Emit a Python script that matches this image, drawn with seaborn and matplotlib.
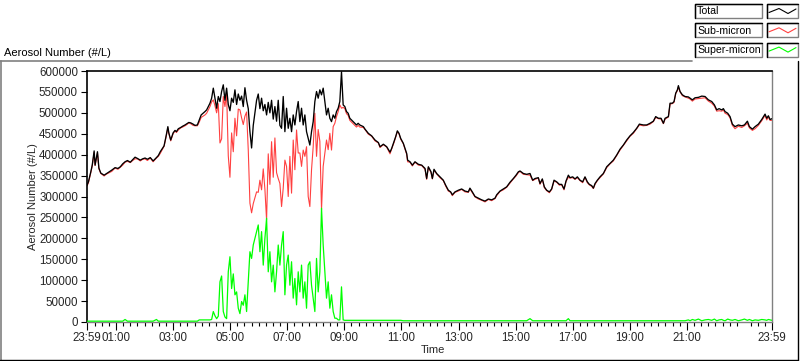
import numpy as np
import pandas as pd
import matplotlib
matplotlib.use("Agg")
import matplotlib.pyplot as plt
import seaborn as sns
from matplotlib.lines import Line2D
from matplotlib.patches import Rectangle

# ---------------- data (time: minutes after 23:59, values: thousands #/L) -------------
minutes = [
    # 23:59 - 04:00
    0, 3, 8, 11, 15, 17, 20, 22, 25, 29, 36, 40, 45, 52, 59, 65, 70, 75, 80, 85,
    91, 96, 101, 106, 112, 117, 122, 127, 133, 139, 146, 150, 154, 162, 166, 170, 172, 176, 181, 185,
    188, 192, 197, 201, 206, 210, 214, 218, 223, 227, 232, 236, 240,
    # 04:07 - 06:45 (noisy)
    248, 251.5, 255, 258.5, 262, 265.5, 269, 272.5, 276, 279.5, 283, 286.5, 290, 293.5, 297, 300.5,
    304, 307.5, 311, 314.5, 318, 321.5, 325, 328.5, 332, 335.5, 339, 342.5, 346, 349.5, 353, 356.5,
    360, 363.5, 367, 370.5, 374, 377.5, 381, 384.5, 388, 391.5, 395, 398.5, 402, 405.5,
    # 06:48 - 09:33
    409, 412.5, 416, 419.5, 423, 426.5, 430, 433.5, 437, 440.5, 444, 447.5, 451, 454.5, 458, 461.5,
    465, 468.5, 472, 475.5, 479, 482.5, 486, 489.5, 493, 496.5, 500, 503.5, 507, 510.5, 514, 517.5,
    521, 524.5, 528, 531.5, 535, 538.5, 542, 545.5, 549, 552.5, 556, 559.5, 563, 566.5, 570, 573.5,
    # 09:40 - 14:17
    581, 584.4, 591.4, 598.4, 605.4, 612.5, 616, 623, 630, 637, 640.5, 645.4, 648.9, 652.4, 655.9, 659.4,
    665, 668.5, 672, 674, 679, 684, 689.5, 696.6, 703.6, 710.6, 714, 717.6, 723.2, 726, 729.5, 735,
    742, 749, 754, 759.6, 764.5, 768, 773.6, 780.6, 787.6, 794.6, 801.6, 805, 810, 815.7, 822.7, 829.7,
    836.7, 843.7, 850.7, 857.7,
    # 14:20 - 19:20
    861.2, 868.2, 875.2, 882.2, 889.2, 896.3, 901.9, 906.8, 910.3, 917.3, 924.3, 931.3, 936.9, 941.8,
    948.8, 952.3, 957.2, 961.4, 966.3, 972, 976.8, 981.8, 987.4, 993, 997.9, 1002.8, 1007, 1011.9,
    1015.4, 1021, 1025.9, 1030.8, 1036.4, 1042, 1046.9, 1051.8, 1056, 1061, 1064.5, 1068, 1072.9,
    1078.5, 1085.5, 1092.5, 1099.5, 1106.5, 1113.5, 1120.5, 1127.5, 1134.5, 1141.5, 1148.5, 1155.5, 1161.2,
    # 19:28 - 23:59
    1169.6, 1176.6, 1183.6, 1190.6, 1195.5, 1201.2, 1206.8, 1211.7, 1215.2, 1222.2, 1225.7, 1230.6,
    1234.1, 1237.6, 1241.1, 1243.2, 1246.7, 1251.6, 1257.2, 1264.2, 1267.7, 1272.6, 1278.2, 1285.3,
    1292.3, 1299.3, 1306.3, 1313.3, 1318.9, 1323.8, 1328.7, 1334.3, 1337.8, 1341.3, 1346.9, 1351.8,
    1356.7, 1362.3, 1369.3, 1376.4, 1382, 1388.3, 1392.5, 1398.8, 1404.4, 1411.4, 1418.4, 1425.4,
    1428.9, 1432.4, 1435.9, 1440,
]

total = [
    327, 335, 359, 375, 409, 375, 395, 407, 368, 356, 351, 354, 358, 363, 369, 367, 371, 378, 383, 386,
    382, 388, 394, 391, 387, 390, 392, 389, 393, 385, 393, 398, 407, 421, 443, 467, 452, 435, 452, 458,
    455, 462, 465, 468, 471, 474, 477, 476, 473, 470, 471, 483, 495,
    503, 507, 515, 523, 535, 559, 535, 511, 539, 527, 551, 567, 530, 559, 520, 505,
    535, 525, 555, 520, 545, 530, 540, 515, 560, 530, 510, 455, 416, 470, 500, 530,
    545, 510, 535, 505, 520, 495, 525, 500, 530, 485, 515, 480, 530, 470,
    463, 539, 455, 511, 463, 487, 455, 495, 471, 503, 527, 479, 511, 471, 495, 455,
    439, 423, 455, 479, 527, 551, 535, 555, 543, 559, 527, 495, 511, 487, 479, 495,
    487, 503, 511, 527, 598, 519, 515, 503, 499, 487, 483, 479, 475, 471, 475, 471,
    467, 461, 451, 445, 435, 429, 419, 425, 419, 406, 415, 431, 443, 457, 451, 439,
    427, 415, 403, 387, 383, 375, 383, 377, 375, 367, 343, 371, 359, 343, 365, 355,
    347, 339, 327, 315, 311, 304, 311, 315, 318, 313, 311, 320, 311, 300, 296, 292,
    289, 294, 292, 296,
    304, 313, 318, 323, 334, 343, 351, 359, 361, 355, 353, 355, 339, 343,
    345, 331, 342, 323, 315, 311, 318, 339, 335, 329, 329, 318, 337, 351,
    345, 347, 342, 347, 339, 335, 347, 335, 329, 326, 320, 331, 339,
    347, 355, 371, 379, 387, 399, 413, 423, 435, 445, 453, 463, 473,
    471, 471, 475, 480, 491, 487, 487, 475, 487, 491, 523, 523,
    527, 547, 555, 565, 551, 543, 539, 538, 535, 531, 536, 537,
    540, 539, 531, 527, 519, 507, 510, 507, 510, 503, 499, 491,
    473, 467, 471, 469, 471, 480, 467, 461, 467, 473, 484, 497,
    487, 493, 484, 486,
]

sub_micron = [
    325, 333, 357, 373, 405, 374, 393, 404, 366, 355, 349, 353, 356, 360, 368, 365, 370, 375, 382, 384,
    381, 386, 390, 390, 385, 389, 390, 386, 392, 383, 392, 396, 403, 420, 441, 464, 451, 433, 450, 457,
    453, 459, 464, 466, 469, 472, 476, 474, 470, 469, 469, 478, 489,
    495, 499, 507, 515, 526, 531, 517, 500, 522, 428, 438, 539, 515, 548, 397, 346,
    452, 407, 487, 445, 509, 507, 488, 472, 492, 502, 411, 284, 261, 283, 297, 311,
    310, 339, 316, 366, 317, 244, 402, 329, 431, 346, 440, 357, 343, 331,
    276, 320, 387, 372, 300, 396, 308, 435, 364, 459, 404, 404, 372, 411, 396, 419,
    300, 276, 364, 419, 499, 396, 460, 432, 268, 372, 404, 435, 412, 451, 411, 467,
    475, 491, 503, 519, 511, 513, 510, 498, 494, 482, 478, 474, 470, 466, 470, 466,
    465, 460, 449, 444, 433, 428, 417, 424, 418, 402, 414, 429, 442, 455, 450, 437,
    426, 413, 401, 383, 382, 373, 382, 375, 374, 365, 341, 370, 357, 342, 363, 354,
    345, 338, 325, 313, 310, 302, 310, 313, 317, 311, 310, 318, 309, 299, 294, 291,
    287, 293, 290, 295,
    302, 312, 316, 322, 332, 342, 349, 357, 360, 353, 352, 351, 338, 341,
    344, 329, 341, 321, 314, 309, 317, 337, 334, 327, 328, 316, 336, 346,
    344, 345, 341, 345, 338, 333, 346, 333, 328, 324, 319, 329, 338,
    345, 354, 369, 378, 385, 398, 411, 422, 433, 444, 451, 462, 471,
    469, 470, 473, 479, 489, 486, 485, 474, 485, 490, 521, 522,
    525, 546, 553, 562, 550, 541, 538, 535, 533, 528, 533, 534,
    535, 536, 528, 523, 516, 504, 505, 504, 507, 499, 496, 488,
    470, 462, 468, 465, 469, 475, 464, 458, 462, 470, 481, 494,
    483, 490, 482, 482,
]

super_micron = [
    2, 2, 2, 2, 2, 2, 2, 2, 2, 2, 2, 2, 2, 2, 2, 2, 2, 2, 6, 2,
    2, 2, 2, 2, 2, 2, 2, 2, 2, 2, 6, 2, 2, 2, 2, 2, 2, 2, 2, 2,
    2, 2, 2, 2, 2, 2, 2, 2, 2, 2, 2, 5, 5,
    5, 5, 5, 5, 6, 25, 15, 8, 14, 96, 110, 25, 12, 8, 120, 156,
    80, 115, 65, 72, 33, 20, 49, 40, 65, 25, 96, 168, 152, 184, 200, 216,
    232, 168, 216, 136, 200, 248, 120, 168, 96, 136, 72, 120, 184, 136,
    184, 216, 65, 136, 160, 88, 144, 57, 104, 41, 120, 72, 136, 57, 96, 33,
    136, 144, 88, 57, 25, 152, 72, 120, 272, 184, 120, 57, 96, 33, 65, 25,
    9, 9, 5, 5, 84, 5, 4, 4, 4, 4, 4, 4, 4, 4, 4, 4,
    4, 4, 4, 4, 4, 4, 4, 4, 4, 4, 4, 4, 4, 4, 4, 4,
    3, 3, 3, 3, 3, 3, 3, 3, 3, 3, 3, 3, 3, 3, 3, 3,
    3, 3, 3, 3, 3, 3, 3, 3, 3, 3, 3, 3, 3, 3, 3, 3,
    3, 3, 3, 3,
    3, 3, 3, 3, 3, 3, 3, 3, 3, 3, 3, 8, 3, 3,
    3, 3, 3, 3, 3, 3, 3, 3, 3, 3, 3, 3, 3, 8,
    3, 3, 3, 3, 3, 3, 3, 3, 3, 3, 3, 3, 3,
    3, 3, 3, 3, 3, 3, 3, 3, 3, 3, 3, 3, 3,
    3, 3, 3, 3, 3, 3, 3, 3, 3, 3, 3, 3,
    3, 3, 3, 3, 3, 3, 3, 5, 3, 6, 4, 7,
    3, 5, 6, 4, 7, 3, 5, 6, 4, 3, 7, 5,
    4, 6, 3, 5, 7, 4, 6, 3, 5, 4, 6, 5,
    4, 6, 5, 4,
]

tick_minutes = [0, 61, 181, 301, 421, 541, 661, 781, 901, 1021, 1141, 1261, 1440]
tick_labels = ["23:59", "01:00", "03:00", "05:00", "07:00", "09:00", "11:00",
               "13:00", "15:00", "17:00", "19:00", "21:00", "23:59"]
y_ticks = [0, 50000, 100000, 150000, 200000, 250000, 300000,
           350000, 400000, 450000, 500000, 550000, 600000]
series_names = ["Total", "Sub-micron", "Super-micron"]

# ---------------- style -------------
sns.set_style("white")
plt.rcParams['font.family'] = ['Liberation Sans', 'DejaVu Sans']
plt.rcParams['font.size'] = 8

BLACK, RED, GREEN, GREY = "#000000", "#ff4040", "#00ff00", "#808080"
W, H = 800, 361
fig = plt.figure(figsize=(W / 100, H / 100), dpi=100)
fig.patch.set_facecolor("white")

L, R, T, B = 87, 772, 71, 322
ax = fig.add_axes([L / W, 1 - B / H, (R - L) / W, (B - T) / H])

df = pd.DataFrame({
    "hours": np.array(minutes) / 60.0,
    "Total": np.array(total) * 1000.0,
    "Sub-micron": np.array(sub_micron) * 1000.0,
    "Super-micron": np.array(super_micron) * 1000.0,
})

sns.lineplot(data=df, x="hours", y="Sub-micron", ax=ax, color=RED, lw=0.8,
             estimator=None, sort=False, zorder=2)
sns.lineplot(data=df, x="hours", y="Total", ax=ax, color=BLACK, lw=0.95,
             estimator=None, sort=False, zorder=3)
sns.lineplot(data=df, x="hours", y="Super-micron", ax=ax, color=GREEN, lw=0.9,
             estimator=None, sort=False, zorder=4)

ax.set_xlim(0, 24)
ax.set_ylim(0, 600000)
ax.set_xticks(np.array(tick_minutes) / 60.0)
ax.set_xticklabels(tick_labels)
minor = [16, 31, 46] + [61 + 15 * k for k in range(1, 96) if 61 + 15 * k < 1440 and (15 * k) % 120 != 0]
ax.set_xticks(np.array(minor) / 60.0, minor=True)
ax.set_yticks(y_ticks)
ax.set_yticklabels([str(v) for v in y_ticks])

ax.tick_params(axis="x", which="major", direction="out", length=5.5, width=0.8,
               color=BLACK, pad=2, labelsize=8.3, bottom=True)
ax.tick_params(axis="x", which="minor", direction="out", length=3, width=0.8,
               color=BLACK, bottom=True)
ax.tick_params(axis="y", which="major", direction="out", length=4.5, width=0.8,
               color=BLACK, pad=2, labelsize=8.3, left=True)

for side in ["top", "left"]:
    ax.spines[side].set_color(BLACK)
    ax.spines[side].set_linewidth(1.2)
for side in ["bottom", "right"]:
    ax.spines[side].set_color(GREY)
    ax.spines[side].set_linewidth(1.0)

ax.set_xlabel("Time", fontsize=8)
ax.set_ylabel("Aerosol Number (#/L)", fontsize=8)
ax.xaxis.set_label_coords(0.505, -0.092)
ax.yaxis.set_label_coords(-0.071, 0.5)

# ---------------- panel frame & captions -------------
def fx(x):
    return x / W

def fy(y):
    return 1 - y / H

fig.add_artist(Line2D([fx(0), fx(692)], [fy(61), fy(61)], color=GREY, lw=1.2, transform=fig.transFigure))
fig.add_artist(Line2D([fx(0.7), fx(0.7)], [fy(61), fy(361)], color=GREY, lw=1.2, transform=fig.transFigure))
fig.add_artist(Line2D([fx(797.5), fx(797.5)], [fy(61), fy(360)], color=BLACK, lw=1.0, transform=fig.transFigure))
fig.add_artist(Line2D([fx(0), fx(798)], [fy(359.5), fy(359.5)], color=BLACK, lw=1.0, transform=fig.transFigure))

fig.text(fx(4), fy(52.5), "Aerosol Number (#/L)", ha="left", va="center", fontsize=8, color=BLACK)

# ---------------- legend (LabVIEW style boxes) -------------
colors = [BLACK, RED, GREEN]
for i, (name, col) in enumerate(zip(series_names, colors)):
    y0 = 4 + i * 19.3
    y1 = y0 + 14
    for (xa, xb) in [(695, 762), (767, 798)]:
        fig.add_artist(Rectangle((fx(xa), fy(y1)), fx(xb) - fx(xa), fy(y0) - fy(y1),
                                 facecolor="white", edgecolor=GREY, lw=1.0,
                                 transform=fig.transFigure))
        fig.add_artist(Line2D([fx(xa), fx(xa), fx(xb)], [fy(y1), fy(y0), fy(y0)],
                              color=BLACK, lw=1.0, transform=fig.transFigure))
    fig.text(fx(697), fy((y0 + y1) / 2 + 0.5), name, ha="left", va="center",
             fontsize=7.6, color=BLACK)
    zx = [769, 779, 788, 796]
    zy = [y0 + 8.5, y0 + 4.5, y0 + 9.5, y0 + 5]
    fig.add_artist(Line2D([fx(v) for v in zx], [fy(v) for v in zy], color=col, lw=0.8,
                          transform=fig.transFigure))

fig.savefig("out.png", dpi=100, facecolor="white")
